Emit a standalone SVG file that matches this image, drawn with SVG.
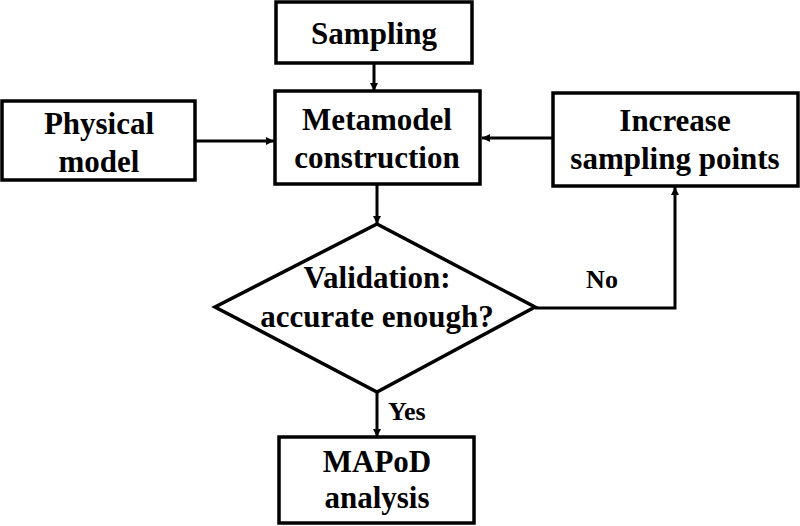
<svg xmlns="http://www.w3.org/2000/svg" width="800" height="526" viewBox="0 0 800 526">
<style>
.nodebox{fill:#fff;stroke:#000;stroke-width:3.5}
.nodetext{font-weight:bold;font-size:31px;text-anchor:middle;fill:#000}
.edgetext{font-weight:bold;font-size:26px;fill:#000}
.edge{fill:none;stroke:#000;stroke-width:3}
</style>
<defs>
<marker id="ah" viewBox="0 0 10 10" refX="10" refY="5" markerWidth="10" markerHeight="8" markerUnits="userSpaceOnUse" orient="auto">
<path d="M0,0 L10,5 L0,10 z" fill="#000"/>
</marker>
</defs>
<rect width="800" height="526" fill="#fff"/>
<g id="connectors">
<line class="edge" x1="374" y1="63" x2="374" y2="91" marker-end="url(#ah)"/>
<line class="edge" x1="195" y1="141" x2="274" y2="141" marker-end="url(#ah)"/>
<line class="edge" x1="553" y1="138" x2="482" y2="138" marker-end="url(#ah)"/>
<line class="edge" x1="377" y1="184" x2="377" y2="224" marker-end="url(#ah)"/>
<polyline class="edge" points="535,308 675,308 675,187" marker-end="url(#ah)"/>
<line class="edge" x1="377" y1="392" x2="377" y2="437" marker-end="url(#ah)"/>
<text class="edgetext" style="font-family:'Liberation Serif',serif !important" x="602" y="288" text-anchor="middle">No</text>
<text class="edgetext" style="font-family:'Liberation Serif',serif !important" x="388" y="420">Yes</text>
</g>
<g id="sampling">
<rect class="nodebox" x="276" y="2" width="196" height="61"/>
<text class="nodetext" style="font-family:'Liberation Serif',serif !important" x="374" y="44">Sampling</text>
</g>
<g id="metamodel">
<rect class="nodebox" x="275" y="91" width="205" height="93"/>
<text class="nodetext" style="font-family:'Liberation Serif',serif !important" x="377" y="130">Metamodel</text>
<text class="nodetext" style="font-family:'Liberation Serif',serif !important" x="377" y="168">construction</text>
</g>
<g id="physical">
<rect class="nodebox" x="2" y="101" width="193" height="79"/>
<text class="nodetext" style="font-family:'Liberation Serif',serif !important" x="99" y="134">Physical</text>
<text class="nodetext" style="font-family:'Liberation Serif',serif !important" x="99" y="172">model</text>
</g>
<g id="increase">
<rect class="nodebox" x="553" y="93" width="245" height="93"/>
<text class="nodetext" style="font-family:'Liberation Serif',serif !important" x="675" y="131">Increase</text>
<text class="nodetext" style="font-family:'Liberation Serif',serif !important" x="675" y="169">sampling points</text>
</g>
<g id="validation">
<polygon class="nodebox" points="377,224 535,307 377,392 215,307"/>
<text class="nodetext" style="font-family:'Liberation Serif',serif !important" x="377" y="288">Validation:</text>
<text class="nodetext" style="font-family:'Liberation Serif',serif !important" x="377" y="327">accurate enough?</text>
</g>
<g id="mapod">
<rect class="nodebox" x="279" y="437" width="195" height="86"/>
<text class="nodetext" style="font-family:'Liberation Serif',serif !important" x="377" y="472">MAPoD</text>
<text class="nodetext" style="font-family:'Liberation Serif',serif !important" x="377" y="508">analysis</text>
</g>
</svg>
